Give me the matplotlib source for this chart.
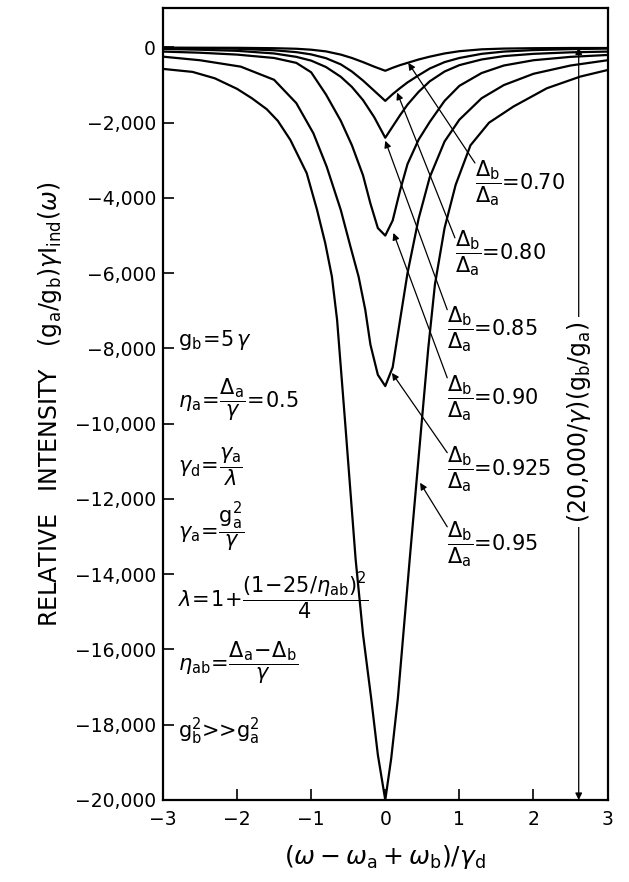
import matplotlib
matplotlib.use("Agg")
import matplotlib.pyplot as plt
from matplotlib.ticker import FuncFormatter

plt.rcParams['font.family'] = ['DejaVu Sans']
plt.rcParams['mathtext.fontset'] = 'dejavusans'

# curves: (omega - omega_a + omega_b)/gamma_d  vs  relative intensity
x_070 = [-3, -2, -1.5, -1.2, -1.0, -0.8, -0.6, -0.45, -0.3, -0.15, 0, 0.1, 0.2, 0.3, 0.45, 0.6, 0.8, 1.0, 1.3, 1.6, 2.0, 2.5, 3]
y_070 = [-5, -10, -20, -35, -60, -105, -190, -280, -390, -510, -620, -540, -470, -410, -320, -245, -160, -100, -50, -30, -20, -15, -15]

x_080 = [-3, -2.5, -2, -1.5, -1.2, -1.0, -0.8, -0.6, -0.45, -0.3, -0.15, 0, 0.1, 0.2, 0.3, 0.45, 0.6, 0.8, 1.0, 1.3, 1.6, 2.0, 2.5, 3]
y_080 = [-15, -20, -35, -75, -125, -185, -285, -450, -640, -880, -1150, -1420, -1240, -1080, -930, -740, -560, -390, -280, -170, -110, -70, -45, -30]

x_085 = [-3, -2.5, -2, -1.5, -1.2, -1.0, -0.8, -0.6, -0.45, -0.3, -0.15, 0, 0.1, 0.2, 0.3, 0.45, 0.6, 0.8, 1.0, 1.3, 1.6, 2.0, 2.5, 3]
y_085 = [-40, -60, -90, -160, -250, -350, -520, -780, -1050, -1400, -1850, -2400, -2100, -1800, -1520, -1180, -900, -640, -470, -320, -230, -170, -130, -110]

x_090 = [-3, -2.5, -2, -1.5, -1.2, -1.0, -0.8, -0.6, -0.45, -0.3, -0.2, -0.1, 0, 0.1, 0.2, 0.3, 0.45, 0.6, 0.8, 1.0, 1.3, 1.6, 2.0, 2.5, 3]
y_090 = [-110, -140, -190, -280, -410, -660, -1250, -1950, -2600, -3400, -4150, -4800, -5000, -4600, -3800, -3100, -2450, -1980, -1420, -1020, -680, -480, -340, -250, -200]

x_0925 = [-3, -2.5, -1.95, -1.5, -1.2, -0.97, -0.79, -0.6, -0.47, -0.36, -0.27, -0.2, -0.1, 0, 0.1, 0.2, 0.3, 0.45, 0.6, 0.8, 1.0, 1.3, 1.6, 2.0, 2.5, 3]
y_0925 = [-245, -340, -510, -860, -1480, -2280, -3170, -4320, -5290, -6090, -6970, -7900, -8700, -9000, -8500, -7240, -6000, -4550, -3450, -2500, -1920, -1350, -1000, -700, -480, -340]

x_095 = [-3, -2.6, -2.3, -2.0, -1.8, -1.6, -1.45, -1.28, -1.06, -0.92, -0.81, -0.72, -0.65, -0.54, -0.4, -0.3, -0.19, -0.1, 0,
         0.08, 0.17, 0.33, 0.49, 0.58, 0.67, 0.8, 0.95, 1.15, 1.4, 1.73, 2.18, 2.63, 3]
y_095 = [-570, -650, -820, -1100, -1350, -1640, -1950, -2460, -3340, -4320, -5200, -6090, -7240, -10000, -13600, -15600, -17300, -18800, -20000,
         -18900, -17300, -13600, -10000, -8000, -6300, -4800, -3650, -2600, -2000, -1570, -1085, -775, -600]

ratios = ["0.70", "0.80", "0.85", "0.90", "0.925", "0.95"]
curves = [(x_070, y_070), (x_080, y_080), (x_085, y_085), (x_090, y_090), (x_0925, y_0925), (x_095, y_095)]

# label anchor (left edge, middle) and arrow head for each ratio
label_xy = [(1.21, -3600), (0.94, -5460), (0.836, -7500), (0.836, -9320), (0.836, -11220), (0.836, -13190)]
tail_xy = [(1.21, -3070), (0.94, -5060), (0.836, -6970), (0.836, -8780), (0.836, -10770), (0.836, -12740)]
head_xy = [(0.31, -410), (0.16, -1200), (0.0, -2480), (0.11, -4930), (0.09, -8650), (0.47, -11570)]

yticks = list(range(-20000, 1, 2000))
xticks = [-3, -2, -1, 0, 1, 2, 3]

fig = plt.figure(figsize=(6.29, 8.82), dpi=100)
ax = fig.add_axes([0.259, 0.093, 0.707, 0.898])

for xs, ys in curves:
    ax.plot(xs, ys, color='black', lw=1.6, solid_joinstyle='round')

ax.set_xlim(-3, 3)
ax.set_ylim(-20000, 1050)
ax.set_xticks(xticks)
ax.set_yticks(yticks)
ax.xaxis.set_major_formatter(FuncFormatter(lambda v, p: f"{int(v)}".replace('-', '\u2212')))
ax.yaxis.set_major_formatter(FuncFormatter(lambda v, p: f"{int(v):,}".replace('-', '\u2212')))
ax.tick_params(direction='in', length=8, width=1.2, labelsize=13.5)
ax.tick_params(axis='x', pad=7)
ax.tick_params(axis='y', pad=5)
for s in ax.spines.values():
    s.set_linewidth(1.6)

ax.set_xlabel(r"$(\omega - \omega_{\rm a} + \omega_{\rm b})/\gamma_{\rm d}$", fontsize=18, labelpad=10)
ax.set_ylabel(r"RELATIVE   INTENSITY   $(\mathrm{g_a}/\mathrm{g_b})\gamma \mathrm{I}_{\rm ind}(\omega)$",
              fontsize=17, labelpad=8)

for r, lab, tail, head in zip(ratios, label_xy, tail_xy, head_xy):
    ax.annotate("", xy=head, xytext=tail,
                arrowprops=dict(arrowstyle='-|>', lw=0.9, color='black', shrinkA=0, shrinkB=0,
                                mutation_scale=10))
    ax.text(lab[0], lab[1], r"$\dfrac{\Delta_{\rm b}}{\Delta_{\rm a}}$" + "=" + r, fontsize=15,
            ha='left', va='center')

# full-scale marker on the right
ax.annotate("", xy=(2.61, -20000), xytext=(2.61, 0),
            arrowprops=dict(arrowstyle='<|-|>', lw=0.9, color='black', shrinkA=0, shrinkB=0, mutation_scale=10))
ax.text(2.61, -9960, r"$(20{,}000/\gamma)(\mathrm{g_b}/\mathrm{g_a})$", rotation=90, fontsize=17,
        ha='center', va='center', bbox=dict(facecolor='white', edgecolor='none', pad=3))

# parameter notes on the left
notes = [
    (-7770, r"$\mathrm{g_b}\!=\!5\,\gamma$"),
    (-9360, r"$\eta_{\rm a}\!=\!\dfrac{\Delta_{\rm a}}{\gamma}\!=\!0.5$"),
    (-11140, r"$\gamma_{\rm d}\!=\!\dfrac{\gamma_{\rm a}}{\lambda}$"),
    (-12760, r"$\gamma_{\rm a}\!=\!\dfrac{\mathrm{g_a^2}}{\gamma}$"),
    (-14590, r"$\lambda\!=\!1\!+\!\dfrac{(1\!-\!25/\eta_{\rm ab})^2}{4}$"),
    (-16350, r"$\eta_{\rm ab}\!=\!\dfrac{\Delta_{\rm a}\!-\!\Delta_{\rm b}}{\gamma}$"),
    (-18170, r"$\mathrm{g_b^2}$>>$\mathrm{g_a^2}$"),
]
for yv, txt in notes:
    ax.text(-2.79, yv, txt, fontsize=15, ha='left', va='center')

fig.savefig("out.png", dpi=100)
